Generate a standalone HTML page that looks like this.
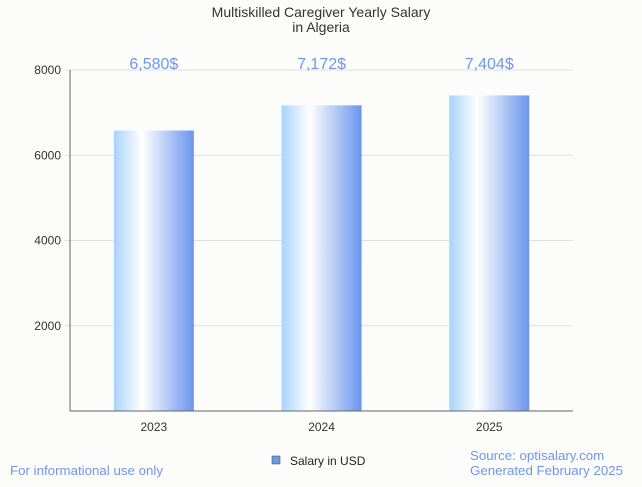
<!DOCTYPE html>
<html><head><meta charset="utf-8"><style>
body{margin:0;background:#fcfcfb;font-family:"Liberation Sans",sans-serif;}
</style></head><body>
<svg id="c" width="642" height="482" xmlns="http://www.w3.org/2000/svg">
<defs><linearGradient id="g" x1="0" x2="1" y1="0" y2="0">
<stop offset="0" stop-color="#a8d4ff"/><stop offset="0.35" stop-color="#ffffff"/><stop offset="1" stop-color="#6a95ec"/>
</linearGradient></defs>
<text x="321" y="17" text-anchor="middle" font-size="14" fill="#333">Multiskilled Caregiver Yearly Salary</text>
<text x="321" y="32" text-anchor="middle" font-size="14" fill="#333">in Algeria</text>
<g id="grid"></g><g id="bars"></g>
<line x1="70" y1="70" x2="70" y2="411" stroke="#666"/>
<line x1="70" y1="411" x2="573" y2="411" stroke="#666"/>
<rect x="272" y="456" width="8" height="8" fill="#6a9be0" stroke="#446" stroke-width="0.5"/>
<text x="290" y="465" font-size="12" fill="#222">Salary in USD</text>
<text x="10" y="475" font-size="13.3" fill="#6f98e8">For informational use only</text>
<text x="470" y="460" font-size="13.3" fill="#6f98e8">Source: optisalary.com</text>
<text x="470" y="475" font-size="13.3" fill="#6f98e8">Generated February 2025</text>
</svg>
<script>
const categories=["2023","2024","2025"];
const values=[6580,7172,7404];
const valueLabels=["6,580$","7,172$","7,404$"];
const yTicks=[2000,4000,6000,8000];
const NS="http://www.w3.org/2000/svg";
const y=v=>411-v/8000*341;
const x0=70,bw=167.7;
const grid=document.getElementById('grid'),bars=document.getElementById('bars');
function mk(t,a,p){const e=document.createElementNS(NS,t);for(const k in a)e.setAttribute(k,a[k]);p.appendChild(e);return e;}
yTicks.forEach(t=>{
 const l=mk('line',{x1:65,x2:573,y1:y(t),y2:y(t),stroke:'#e0e0e0'},grid);
 
 
 const tx=mk('text',{x:61,y:y(t)+4,'text-anchor':'end','font-size':12,fill:'#333'},grid);
 tx.textContent=t;
 
 
});
categories.forEach((c,i)=>{
 const cx=x0+bw*(i+0.5);
 const r=mk('rect',{x:cx-40,y:y(values[i]),width:80,height:411-y(values[i]),fill:'url(#g)'},bars);
 
 
 const v=mk('text',{x:cx,y:69,'text-anchor':'middle','font-size':16,fill:'#6f98e8'},bars);
 v.textContent=valueLabels[i];
 
 
 const t=mk('text',{x:cx,y:431,'text-anchor':'middle','font-size':12,fill:'#333'},bars);
 t.textContent=c;
 
 
});
</script>
</body></html>
